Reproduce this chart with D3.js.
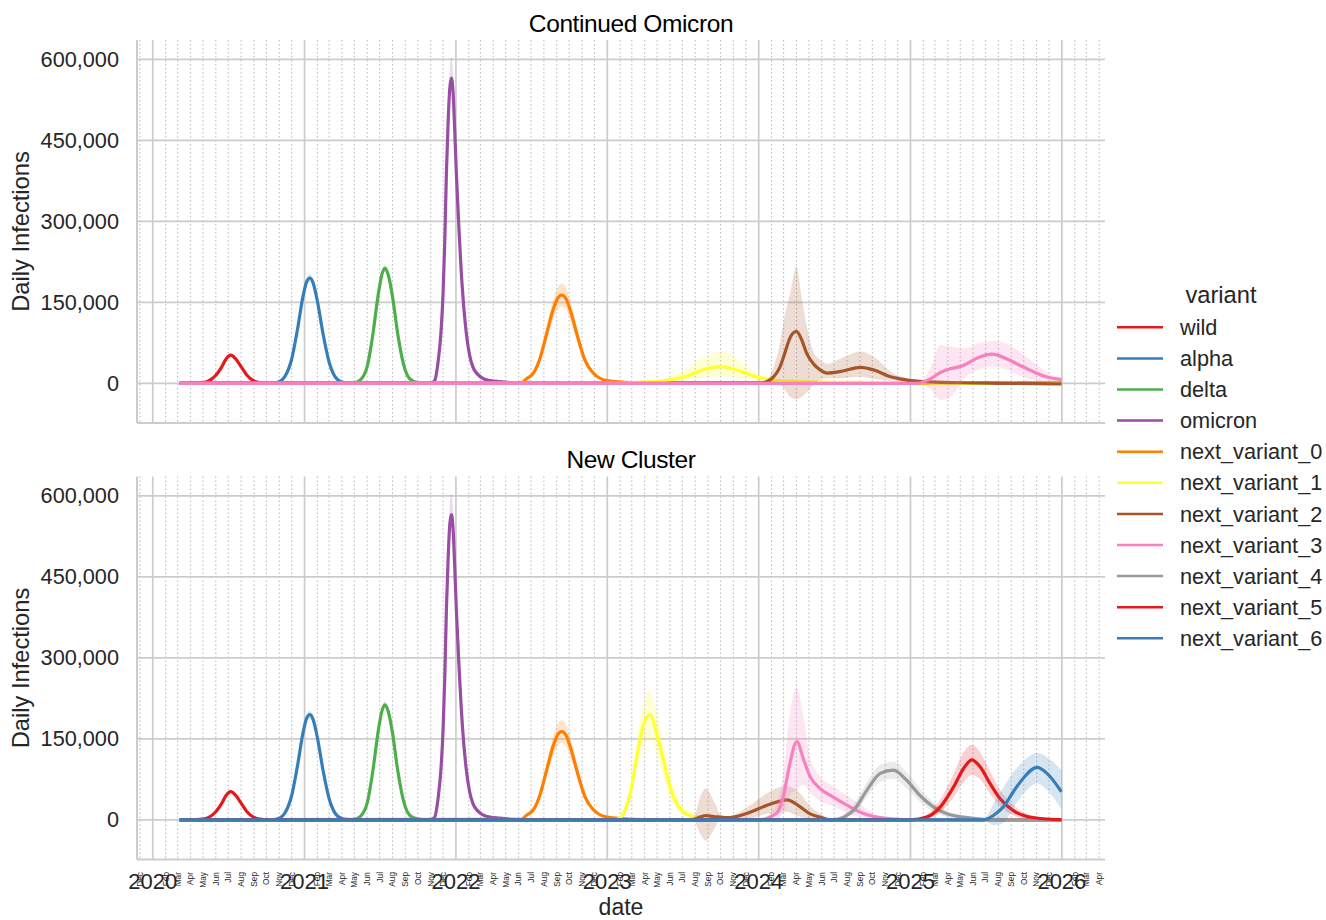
<!DOCTYPE html>
<html>
<head>
<meta charset="utf-8">
<script src="https://cdn.jsdelivr.net/npm/d3@7"></script>
<style>
  html, body { margin: 0; padding: 0; background: #ffffff; }
  svg { display: block; font-family: "Liberation Sans", Arial, Helvetica, sans-serif; }
</style>
</head>
<body>
<svg id="chart" width="1326" height="920"></svg>
<script>
// ---------------- DATA (rows: [date, mean, lower, upper]) ----------------
const variantNames = ["wild","alpha","delta","omicron","next_variant_0","next_variant_1",
  "next_variant_2","next_variant_3","next_variant_4","next_variant_5","next_variant_6"];
const variantColors = ["#e41a1c","#377eb8","#4daf4a","#984ea3","#ff7f00","#ffff33",
  "#a65628","#f781bf","#999999","#e41a1c","#377eb8"];
const panelTitles = ["Continued Omicron", "New Cluster"];
const yTickValues = [0, 150000, 300000, 450000, 600000];
const xLabel = "date";
const yLabel = "Daily Infections";
const legendTitle = "variant";

const wild = [
  ["2020-03-06",0,0,0],["2020-04-15",300,250,400],["2020-05-01",1200,1000,1500],
  ["2020-05-15",4500,4000,5200],["2020-06-01",15000,14000,16500],["2020-06-15",30000,28500,32000],
  ["2020-06-25",44000,42000,46500],["2020-07-07",52000,49500,55000],["2020-07-18",46000,44000,48500],
  ["2020-08-01",31000,29500,33000],["2020-08-15",15000,14000,16000],["2020-09-01",4500,4000,5000],
  ["2020-09-15",1200,1000,1400],["2020-10-05",200,150,250],["2025-12-31",0,0,0]
];
const alpha = [
  ["2020-03-06",0,0,0],["2020-10-15",500,400,600],["2020-11-01",3000,2700,3400],
  ["2020-11-15",13000,12000,14000],["2020-12-01",45000,42000,48000],["2020-12-15",100000,95000,105000],
  ["2020-12-28",160000,153000,166000],["2021-01-06",188000,181000,195000],["2021-01-14",195000,188000,202000],
  ["2021-01-22",185000,178000,192000],["2021-02-01",152000,146000,158000],["2021-02-15",90000,86000,94000],
  ["2021-03-01",40000,38000,42000],["2021-03-15",13000,12000,14000],["2021-04-01",2500,2200,2800],
  ["2021-04-20",300,250,350],["2025-12-31",0,0,0]
];
const delta = [
  ["2020-03-06",0,0,0],["2021-04-10",200,150,250],["2021-05-01",1000,900,1100],
  ["2021-05-15",6000,5500,6500],["2021-06-01",31000,29000,33000],["2021-06-14",87000,83000,91000],
  ["2021-06-28",166000,160000,172000],["2021-07-06",200000,193000,207000],["2021-07-14",213000,206000,220000],
  ["2021-07-22",200000,193000,207000],["2021-07-31",166000,160000,172000],["2021-08-14",90000,86000,94000],
  ["2021-08-28",34000,32000,36000],["2021-09-12",8000,7500,8500],["2021-10-01",1200,1000,1400],
  ["2021-10-25",150,100,200],["2025-12-31",0,0,0]
];
const omicron = [
  ["2020-03-06",0,0,0],["2021-11-01",500,400,600],["2021-11-10",4000,3500,4500],
  ["2021-11-19",40000,38000,42000],["2021-11-26",95000,91000,100000],["2021-12-01",167000,160000,176000],
  ["2021-12-05",260000,250000,275000],["2021-12-09",389000,373000,410000],["2021-12-13",480000,460000,510000],
  ["2021-12-17",545000,522000,580000],["2021-12-21",565000,545000,604000],["2021-12-25",540000,518000,575000],
  ["2021-12-29",470000,450000,495000],["2022-01-02",389000,373000,408000],["2022-01-08",290000,278000,303000],
  ["2022-01-14",204000,196000,213000],["2022-01-20",140000,134000,146000],["2022-01-26",93000,89000,97000],
  ["2022-02-03",52000,50000,54000],["2022-02-11",30000,29000,31500],["2022-02-22",17000,16000,18000],
  ["2022-03-07",9000,8500,9500],["2022-03-25",5000,4700,5300],["2022-04-16",3000,2800,3200],
  ["2022-05-15",1000,900,1100],["2022-06-15",0,0,0],["2025-12-31",0,0,0]
];
const nextVariant0 = [
  ["2020-03-06",0,0,0],["2022-06-08",1000,800,1200],["2022-06-21",9000,7500,10500],
  ["2022-07-07",19000,16000,22000],["2022-07-23",47000,40000,54000],["2022-08-08",93000,80000,106000],
  ["2022-08-24",138000,119000,157000],["2022-09-03",157000,136000,178000],["2022-09-13",163500,142000,185000],
  ["2022-09-23",157000,136000,178000],["2022-10-05",132000,114000,150000],["2022-10-19",93000,80000,106000],
  ["2022-11-08",43000,37000,49000],["2022-11-28",19000,16000,22000],["2022-12-31",5000,4000,6000],
  ["2023-03-04",1000,800,1200],["2023-06-01",0,0,0],["2025-12-31",0,0,0]
];
// Continued Omicron scenario
const coNextVariant1 = [
  ["2020-03-06",0,0,0],["2023-01-01",500,300,800],["2023-03-07",1500,800,2500],
  ["2023-04-17",3000,1500,5000],["2023-05-27",6000,2500,10000],["2023-07-06",12000,5000,25000],
  ["2023-08-13",23000,9000,45000],["2023-09-10",29000,11000,55000],["2023-10-03",31000,12000,59000],
  ["2023-10-25",28000,11000,55000],["2023-11-16",23000,9000,42000],["2023-12-26",12000,5000,20000],
  ["2024-02-04",6000,2500,9000],["2024-04-01",3500,1500,5000],["2024-07-01",2000,800,3000],
  ["2024-11-01",1500,500,2500],["2025-03-01",500,100,1000],["2025-06-01",0,0,0],["2025-12-31",0,0,0]
];
const coNextVariant2 = [
  ["2020-03-06",0,0,0],["2024-01-01",0,0,0],["2024-01-20",3000,1500,5000],
  ["2024-02-06",12000,0,30000],["2024-02-20",28000,-3000,70000],["2024-03-01",49000,-8000,114000],
  ["2024-03-17",85000,-25000,167000],["2024-04-01",96000,-30000,216000],["2024-04-14",80000,-25000,158000],
  ["2024-04-26",55000,-17000,105000],["2024-05-12",36000,-3000,58000],["2024-05-28",25000,6000,44000],
  ["2024-06-15",19000,9000,36000],["2024-07-17",22000,9000,46000],["2024-09-03",29600,12000,59000],
  ["2024-10-05",24700,8000,49000],["2024-11-14",12000,5000,22000],["2024-12-24",6000,3000,9000],
  ["2025-02-03",3000,1500,4500],["2025-04-24",1000,0,2000],["2025-08-01",0,-1000,1000],
  ["2025-12-31",-1000,-2000,0]
];
const coNextVariant3 = [
  ["2020-03-06",0,0,0],["2025-01-17",0,0,0],["2025-02-20",9000,-12000,31000],
  ["2025-03-14",20000,-31000,71000],["2025-04-07",27000,-25000,68000],["2025-04-25",30000,-9000,66000],
  ["2025-05-11",34000,9000,65000],["2025-06-14",48000,25000,74000],["2025-07-17",54000,31000,79000],
  ["2025-08-19",46000,25000,74000],["2025-09-20",34000,15000,59000],["2025-10-23",22000,6000,40000],
  ["2025-11-24",12000,3000,22000],["2025-12-31",7000,2500,9000]
];
// New Cluster scenario
const ncNextVariant1 = [
  ["2020-03-06",0,0,0],["2023-01-20",500,300,800],["2023-02-03",5000,3500,7000],
  ["2023-02-15",22000,16000,28000],["2023-02-25",48000,36000,60000],["2023-03-13",117000,90000,145000],
  ["2023-03-29",176000,135000,218000],["2023-04-14",195000,148000,240000],["2023-04-30",160000,122000,200000],
  ["2023-05-16",111000,82000,145000],["2023-06-01",61000,42000,88000],["2023-06-17",30000,19000,48000],
  ["2023-07-11",11000,6000,20000],["2023-08-14",4000,2000,7000],["2023-09-25",1000,500,2000],
  ["2023-12-01",0,0,0],["2025-12-31",0,0,0]
];
const ncNextVariant2 = [
  ["2020-03-06",0,0,0],["2023-06-10",0,0,0],["2023-07-28",1000,-2000,4000],
  ["2023-08-13",5000,-26000,42000],["2023-08-26",8000,-39000,58000],["2023-09-14",6000,-20000,36000],
  ["2023-09-30",5000,0,11000],["2023-10-16",4000,2000,6000],["2023-11-01",5000,2000,9000],
  ["2023-12-11",14000,3000,27000],["2024-01-21",27000,11000,49000],["2024-03-01",36000,14000,62000],
  ["2024-03-09",37000,15000,62000],["2024-04-10",24000,5000,49000],["2024-05-04",11000,2000,25000],
  ["2024-05-28",5000,1000,12000],["2024-06-21",500,0,2000],["2025-12-31",0,0,0]
];
const ncNextVariant3 = [
  ["2020-03-06",0,0,0],["2024-01-01",0,0,0],["2024-02-13",12000,0,30000],
  ["2024-03-01",45000,15000,90000],["2024-03-15",100000,45000,190000],["2024-04-02",145000,55000,245000],
  ["2024-04-18",112000,65000,190000],["2024-05-04",80000,50000,115000],["2024-05-28",58000,35000,80000],
  ["2024-06-29",42000,25000,62000],["2024-08-01",27000,12000,45000],["2024-09-02",14000,5000,28000],
  ["2024-10-04",6000,2000,12000],["2024-11-13",2000,500,4000],["2025-01-15",0,0,0],["2025-12-31",0,0,0]
];
const ncNextVariant4 = [
  ["2020-03-06",0,0,0],["2024-06-29",500,0,1500],["2024-08-16",17000,10000,27000],
  ["2024-09-18",55000,42000,70000],["2024-10-20",86000,70000,102000],["2024-11-21",92000,76000,108000],
  ["2024-12-23",73000,58000,88000],["2025-01-24",45000,33000,58000],["2025-02-25",24000,15000,33000],
  ["2025-03-30",11000,5000,17000],["2025-05-17",4000,1000,7000],["2025-06-26",1000,0,2000],
  ["2025-09-01",0,0,0],["2025-12-31",0,0,0]
];
const ncNextVariant5 = [
  ["2020-03-06",0,0,0],["2025-01-01",0,0,0],["2025-02-09",5000,2000,9000],
  ["2025-03-14",24000,14000,38000],["2025-04-15",61000,42000,85000],["2025-05-09",95000,70000,125000],
  ["2025-05-29",111000,83000,139000],["2025-06-18",98000,75000,125000],["2025-07-12",67000,48000,90000],
  ["2025-08-05",39000,25000,55000],["2025-09-06",17000,8000,27000],["2025-10-09",6000,2000,11000],
  ["2025-11-17",2000,500,4000],["2025-12-31",500,0,1000]
];
const ncNextVariant6 = [
  ["2020-03-06",0,0,0],["2025-06-26",0,0,0],["2025-07-20",8000,-10000,30000],
  ["2025-08-13",24000,-6000,60000],["2025-09-06",52000,22000,88000],["2025-09-30",77000,48000,108000],
  ["2025-11-02",97000,67000,124000],["2025-11-26",86000,55000,116000],["2025-12-31",52000,20000,92000]
];

const continuedOmicron = [wild, alpha, delta, omicron, nextVariant0, coNextVariant1, coNextVariant2, coNextVariant3];
const newCluster = [wild, alpha, delta, omicron, nextVariant0, ncNextVariant1, ncNextVariant2, ncNextVariant3,
  ncNextVariant4, ncNextVariant5, ncNextVariant6];
const panelSeries = [continuedOmicron, newCluster];

// ---------------- LAYOUT ----------------
const svg = d3.select("#chart");
const parse = d3.timeParse("%Y-%m-%d");
const plotLeft = 137, plotRight = 1105;
const panels = [{top: 40, bottom: 423}, {top: 476.5, bottom: 859.5}];
const x = d3.scaleTime()
  .domain([new Date(2019, 10, 24), new Date(2026, 3, 15)])
  .range([plotLeft, plotRight]);
const yDomain = [-73500, 635700];
const gridColor = "#cccccc";
const textColor = "#262626";

const years = d3.timeYear.range(new Date(2020, 0, 1), x.domain()[1]);
const months = d3.timeMonth.range(x.domain()[0], x.domain()[1]).filter(d => d.getMonth() !== 0);
const monthFmt = d3.timeFormat("%b");
const yearFmt = d3.timeFormat("%Y");
const yFmt = d3.format(",");

panels.forEach((p, pi) => {
  const y = d3.scaleLinear().domain(yDomain).range([p.bottom, p.top]);
  const g = svg.append("g");

  // minor monthly dotted grid
  g.append("g").selectAll("line").data(months).join("line")
    .attr("x1", d => x(d)).attr("x2", d => x(d))
    .attr("y1", p.top).attr("y2", p.bottom)
    .attr("stroke", "#bdbdbd").attr("stroke-width", 1.1)
    .attr("stroke-dasharray", "1.4,2.6");
  // major year grid
  g.append("g").selectAll("line").data(years).join("line")
    .attr("x1", d => x(d)).attr("x2", d => x(d))
    .attr("y1", p.top).attr("y2", p.bottom)
    .attr("stroke", gridColor).attr("stroke-width", 1.7);
  // horizontal grid
  g.append("g").selectAll("line").data(yTickValues).join("line")
    .attr("x1", plotLeft).attr("x2", plotRight)
    .attr("y1", d => y(d)).attr("y2", d => y(d))
    .attr("stroke", gridColor).attr("stroke-width", 1.7);

  // clip
  const clipId = "clip" + pi;
  svg.append("clipPath").attr("id", clipId).append("rect")
    .attr("x", plotLeft).attr("y", p.top).attr("width", plotRight - plotLeft).attr("height", p.bottom - p.top);

  const series = g.append("g").attr("clip-path", `url(#${clipId})`);
  const line = d3.line().x(d => x(parse(d[0]))).y(d => y(d[1])).curve(d3.curveMonotoneX);
  const area = d3.area().x(d => x(parse(d[0]))).y0(d => y(d[2])).y1(d => y(d[3])).curve(d3.curveMonotoneX);

  panelSeries[pi].forEach((rows, i) => {
    const c = variantColors[i];
    series.append("path").datum(rows).attr("d", line)
      .attr("fill", "none").attr("stroke", c).attr("stroke-width", 3.2)
      .attr("stroke-linejoin", "round").attr("stroke-linecap", "butt");
    series.append("path").datum(rows).attr("d", area)
      .attr("fill", c).attr("fill-opacity", 0.2).attr("stroke", "none");
  });

  // spines
  g.append("line").attr("x1", plotLeft).attr("x2", plotLeft).attr("y1", p.top).attr("y2", p.bottom)
    .attr("stroke", gridColor).attr("stroke-width", 2);
  g.append("line").attr("x1", plotLeft).attr("x2", plotRight).attr("y1", p.bottom).attr("y2", p.bottom)
    .attr("stroke", gridColor).attr("stroke-width", 2);

  // y tick labels
  g.append("g").selectAll("text").data(yTickValues).join("text")
    .attr("x", 119).attr("y", d => y(d)).attr("dy", "0.35em")
    .attr("text-anchor", "end").attr("font-size", 21.7).attr("fill", textColor)
    .text(d => yFmt(d));

  // y label
  g.append("text")
    .attr("transform", `translate(29,${(p.top + p.bottom) / 2}) rotate(-90)`)
    .attr("text-anchor", "middle").attr("font-size", 23.7).attr("fill", textColor)
    .text(yLabel);

  // title
  svg.append("text").attr("x", 631).attr("y", p.top - 8.5)
    .attr("text-anchor", "middle").attr("font-size", 24.5).attr("fill", "#000")
    .attr("letter-spacing", "-0.4")
    .text(panelTitles[pi]);

  if (pi === panels.length - 1) {
    // month labels (minor)
    g.append("g").selectAll("text").data(months).join("text")
      .attr("transform", d => `translate(${x(d)},${p.bottom + 12.5}) rotate(-90)`)
      .attr("dy", "0.35em").attr("text-anchor", "end")
      .attr("font-size", 8.3).attr("fill", textColor)
      .text(d => monthFmt(d));
    // year labels (major)
    g.append("g").selectAll("text").data(years).join("text")
      .attr("x", d => x(d)).attr("y", p.bottom + 29.5)
      .attr("text-anchor", "middle").attr("font-size", 22).attr("fill", textColor)
      .text(d => yearFmt(d));
    // x label
    g.append("text").attr("x", (plotLeft + plotRight) / 2).attr("y", 915)
      .attr("text-anchor", "middle").attr("font-size", 23).attr("fill", textColor)
      .text(xLabel);
  }
});

// ---------------- LEGEND ----------------
const lg = svg.append("g");
lg.append("text").attr("x", 1221).attr("y", 303).attr("text-anchor", "middle")
  .attr("font-size", 23.7).attr("fill", textColor).text(legendTitle);
variantNames.forEach((name, i) => {
  const ly = 327.3 + i * 31.1;
  lg.append("line").attr("x1", 1117).attr("x2", 1163).attr("y1", ly).attr("y2", ly)
    .attr("stroke", variantColors[i]).attr("stroke-width", 2.5);
  lg.append("text").attr("x", 1180).attr("y", ly + 7.6)
    .attr("font-size", 21.7).attr("fill", textColor).text(name);
});
</script>
</body>
</html>
